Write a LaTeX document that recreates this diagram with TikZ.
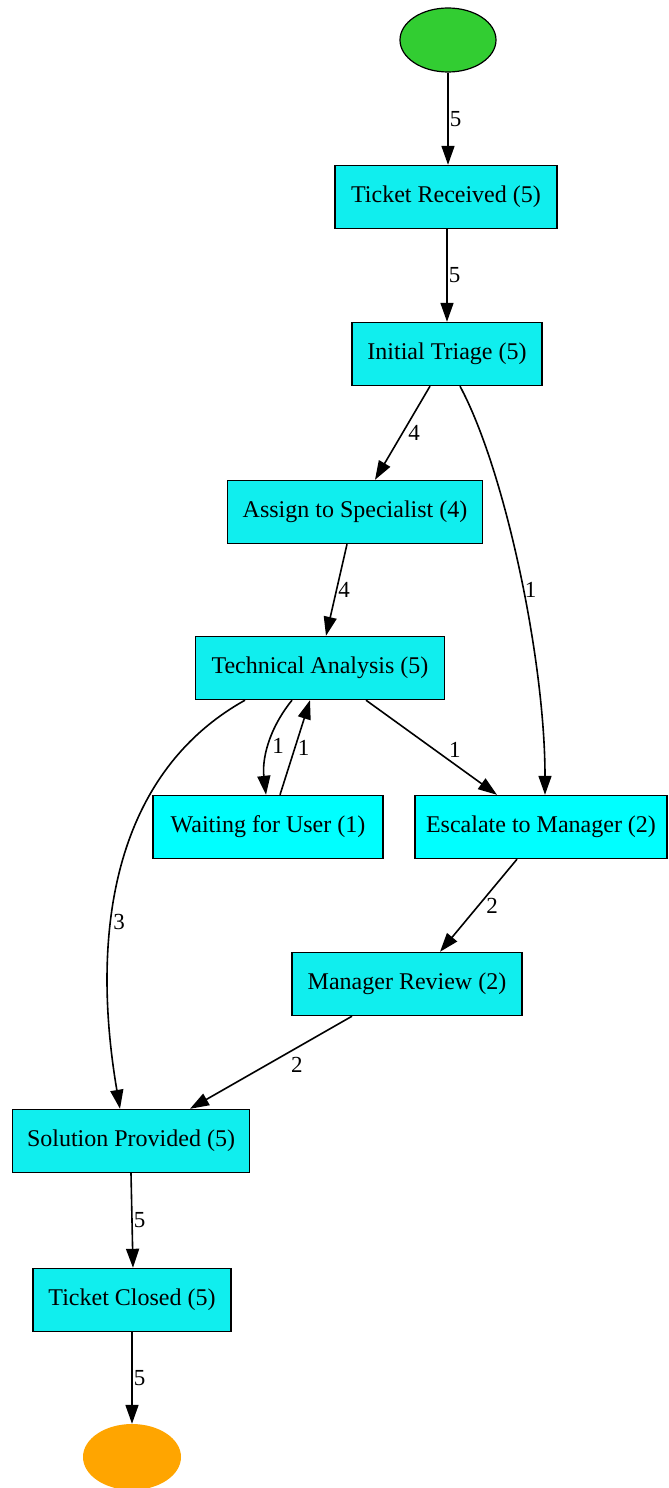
\documentclass[tikz,border=0pt]{standalone}
\usepackage{fontspec}
\setmainfont{Liberation Serif}
\usetikzlibrary{arrows.meta,calc,shapes.geometric}
\definecolor{boxc}{HTML}{10EEEE}
\definecolor{boxb}{HTML}{00FFFF}
\definecolor{startc}{HTML}{32CD32}
\definecolor{endc}{HTML}{FFA500}
\tikzset{
  act/.style={draw=black, line width=1.4pt, fill=boxc, minimum height=63pt, inner sep=0pt, font=\fontsize{24}{28}\selectfont},
  actb/.style={act, fill=boxb},
  arr/.style={draw=black, line width=1.6pt, -{Triangle[length=19pt,width=13pt]}},
  lab/.style={font=\fontsize{23}{27}\selectfont, inner sep=1pt}
}
\begin{document}
\begin{tikzpicture}[x=1pt,y=-1pt]
\path[use as bounding box] (0,0) rectangle (669,1488);
\node[ellipse, draw=black, line width=1.2pt, fill=startc, minimum width=96pt, minimum height=64pt, inner sep=0pt] (start) at (448,40) {};
\node[act, minimum width=222pt] (TR) at (446,197) {Ticket Received (5)};
\node[act, minimum width=190pt] (IT) at (447,354) {Initial Triage (5)};
\node[act, minimum width=255pt] (AS) at (355,512) {Assign to Specialist (4)};
\node[act, minimum width=249pt] (TA) at (320,668) {Technical Analysis (5)};
\node[actb, minimum width=230pt] (WU) at (268,827) {Waiting for User (1)};
\node[actb, minimum width=252pt] (EM) at (541,827) {Escalate to Manager (2)};
\node[act, minimum width=230pt] (MR) at (407,984) {Manager Review (2)};
\node[act, minimum width=237pt] (SP) at (131,1141) {Solution Provided (5)};
\node[act, minimum width=198pt] (TC) at (132,1300) {Ticket Closed (5)};
\node[ellipse, fill=endc, minimum width=98pt, minimum height=66pt, inner sep=0pt] (end) at (132,1457) {};

\draw[arr] (start.south) -- ([xshift=2pt]TR.north) node[lab, pos=0.5, right] {5};
\draw[arr] ([xshift=1pt]TR.south) -- (IT.north) node[lab, pos=0.5, right] {5};
\draw[arr] ([xshift=-17pt]IT.south) -- ([xshift=20pt]AS.north) node[lab, pos=0.5, right=4pt] {4};
\draw[arr] ([xshift=13pt]IT.south) .. controls (505,470) and (545,660) .. ([xshift=4pt]EM.north) node[lab, pos=0.54, right=0pt] {1};
\draw[arr] ([xshift=-8pt]AS.south) -- ([xshift=6pt]TA.north) node[lab, pos=0.5, right] {4};
\draw[arr] ([xshift=-28pt]TA.south) .. controls (268,730) and (262,760) .. ([xshift=-2pt]WU.north) node[lab, pos=0.5, right=2pt] {1};
\draw[arr] ([xshift=12pt]WU.north) -- ([xshift=-10pt]TA.south) node[lab, pos=0.5, right=1pt] {1};
\draw[arr] ([xshift=46pt]TA.south) -- ([xshift=-44pt]EM.north) node[lab, pos=0.62, above right=0pt] {1};
\draw[arr] ([xshift=-75pt]TA.south) .. controls (120,770) and (88,920) .. ([xshift=-11pt]SP.north) node[lab, pos=0.64, right=0pt] {3};
\draw[arr] ([xshift=-24pt]EM.south) -- ([xshift=33pt]MR.north) node[lab, pos=0.5, right=6pt] {2};
\draw[arr] ([xshift=-55pt]MR.south) -- ([xshift=59pt]SP.north) node[lab, pos=0.4, below right=2pt] {2};
\draw[arr] (SP.south) -- ([xshift=1pt]TC.north) node[lab, pos=0.5, right] {5};
\draw[arr] (TC.south) -- (end.north) node[lab, pos=0.5, right] {5};
\end{tikzpicture}
\end{document}
